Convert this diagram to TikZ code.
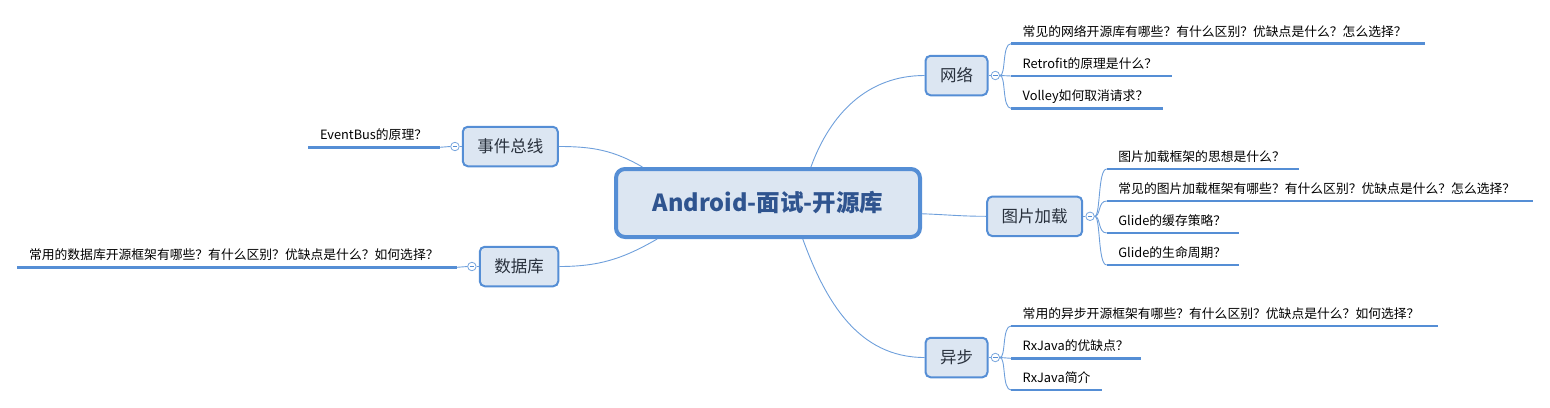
\documentclass[tikz,border=0pt]{standalone}
\usepackage{fontspec}
\setmainfont{Noto Sans CJK SC}
\usetikzlibrary{positioning}

\definecolor{mmblue}{RGB}{85,142,213}
\definecolor{mmfill}{RGB}{220,230,242}
\definecolor{mmink}{RGB}{47,84,143}
\definecolor{mmtext}{RGB}{40,48,60}

\tikzstyle{root}=[draw=mmblue, fill=mmfill, line width=4pt, rounded corners=9pt, minimum width=304pt, minimum height=68pt, text=mmink, font=\fontsize{23.5}{28}\selectfont\bfseries]
\tikzstyle{topic}=[draw=mmblue, fill=mmfill, line width=2pt, rounded corners=5pt, minimum height=39.5pt, inner xsep=14.5pt, text=mmtext, font=\fontsize{16.5}{20}\selectfont]
\tikzstyle{fold}=[circle, draw=mmblue!80, fill=white, line width=.8pt, minimum size=8.5pt, inner sep=0pt, path picture={\draw[mmblue, line width=.7pt] ([xshift=-2.4pt]path picture bounding box.center) -- ([xshift=2.4pt]path picture bounding box.center);}]
\tikzstyle{leaf}=[anchor=south west, inner xsep=11.5pt, inner ysep=2pt, text height=10pt, text depth=5.5pt, align=left, font=\fontsize{12.8}{15}\selectfont]
\tikzstyle{limb}=[draw=mmblue!85, line width=.9pt]
\tikzstyle{stem}=[draw=mmblue, line width=2.7pt]

\begin{document}
\begin{tikzpicture}[x=1pt, y=1pt]
\useasboundingbox (0,0) rectangle (1550,-407);

\node[root](root) at (768,-203) {Android-面试-开源库};

\node[topic](net) at (956.5,-75.5) {网络};
\node[topic](pic) at (1034.7,-216.3) {图片加载};
\node[topic](async) at (956.5,-357.5) {异步};
\node[topic](bus) at (510.3,-146.5) {事件总线};
\node[topic](db) at (519,-266.5) {数据库};

\node[fold, right=2.2pt of net](netf) {};
\node[fold, right=2.2pt of pic](picf) {};
\node[fold, right=2.2pt of async](asyncf) {};
\node[fold, left=2.2pt of bus](busf) {};
\node[fold, left=2.2pt of db](dbf) {};

% 网络
\node[leaf, text width=390.3pt](n1) at (1011,-43.7) {常见的网络开源库有哪些？有什么区别？优缺点是什么？怎么选择？};
\node[leaf, text width=137.7pt](n2) at (1011,-76) {Retrofit的原理是什么？};
\node[leaf, text width=128.7pt](n3) at (1011,-108.3) {Volley如何取消请求？};

% 图片加载
\node[leaf, text width=168.6pt](p1) at (1106.7,-169) {图片加载框架的思想是什么？};
\node[leaf, text width=402.6pt](p2) at (1106.7,-201) {常见的图片加载框架有哪些？有什么区别？优缺点是什么？怎么选择？};
\node[leaf, text width=108.6pt](p3) at (1106.7,-233) {Glide的缓存策略？};
\node[leaf, text width=108.6pt](p4) at (1106.7,-265) {Glide的生命周期？};

% 异步
\node[leaf, text width=403.3pt](a1) at (1011,-326) {常用的异步开源框架有哪些？有什么区别？优缺点是什么？如何选择？};
\node[leaf, text width=106.7pt](a2) at (1011,-358.3) {RxJava的优缺点？};
\node[leaf, text width=67.7pt](a3) at (1011,-390) {RxJava简介};

% left side
\node[leaf, text width=108pt](e1) at (308.3,-147.3) {EventBus的原理？};
\node[leaf, text width=416.4pt](d1) at (17.3,-267.3) {常用的数据库开源框架有哪些？有什么区别？优缺点是什么？如何选择？};

\begin{scope}[every path/.style={limb}]
       \draw (root.40) to[out=70, in=180] (net.west);
       \draw (root.-4) to[out=-2, in=180] (pic.west);
       \draw (root.-46) to[out=-70, in=180] (async.west);
       \draw (root.164) to[out=150, in=0] (bus.east);
       \draw (root.198) to[out=210, in=0] (db.east);

       \draw (net.east) -- (netf.west);
       \draw (pic.east) -- (picf.west);
       \draw (async.east) -- (asyncf.west);
       \draw (bus.west) -- (busf.east);
       \draw (db.west) -- (dbf.east);

       \draw (netf.east) .. controls +(6,0) and +(-9,0) .. (n1.south west);
       \draw (netf.east) -- (n2.south west);
       \draw (netf.east) .. controls +(6,0) and +(-9,0) .. (n3.south west);
       \draw (picf.east) .. controls +(6,0) and +(-9,0) .. (p1.south west);
       \draw (picf.east) .. controls +(6,0) and +(-9,0) .. (p2.south west);
       \draw (picf.east) .. controls +(6,0) and +(-9,0) .. (p3.south west);
       \draw (picf.east) .. controls +(6,0) and +(-9,0) .. (p4.south west);
       \draw (asyncf.east) .. controls +(6,0) and +(-9,0) .. (a1.south west);
       \draw (asyncf.east) -- (a2.south west);
       \draw (asyncf.east) .. controls +(6,0) and +(-9,0) .. (a3.south west);
       \draw (busf.west) -- (e1.south east);
       \draw (dbf.west) -- (d1.south east);
\end{scope}

\begin{scope}[every path/.style={stem}]
       \draw (n1.south west) -- (n1.south east);
       \draw (n2.south west) -- (n2.south east);
       \draw (n3.south west) -- (n3.south east);
       \draw (p1.south west) -- (p1.south east);
       \draw (p2.south west) -- (p2.south east);
       \draw (p3.south west) -- (p3.south east);
       \draw (p4.south west) -- (p4.south east);
       \draw (a1.south west) -- (a1.south east);
       \draw (a2.south west) -- (a2.south east);
       \draw (a3.south west) -- (a3.south east);
       \draw (e1.south west) -- (e1.south east);
       \draw (d1.south west) -- (d1.south east);
\end{scope}
\end{tikzpicture}
\end{document}
